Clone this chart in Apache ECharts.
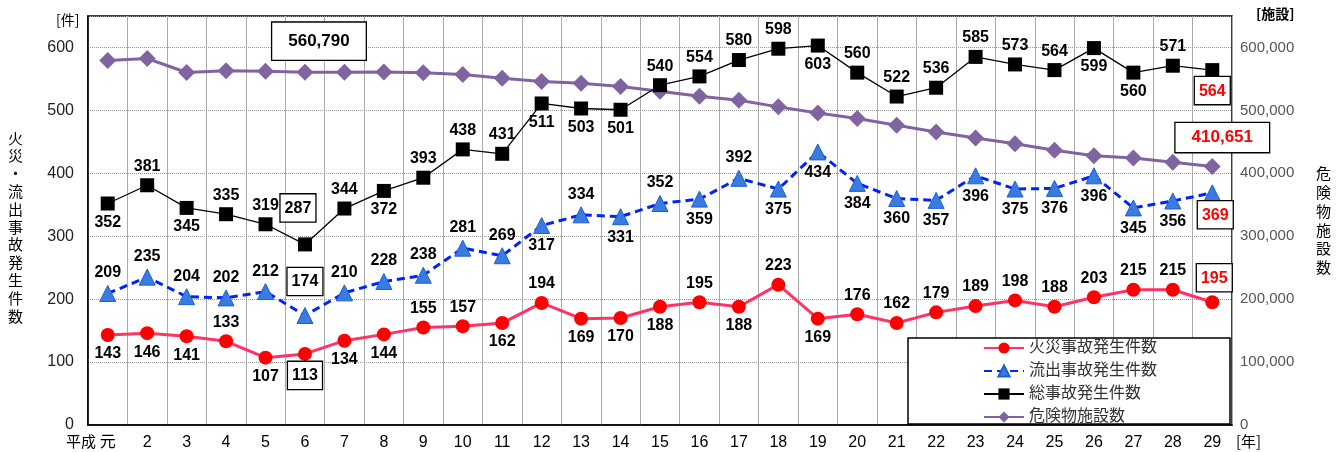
<!DOCTYPE html>
<html><head><meta charset="utf-8">
<script src="https://cdn.jsdelivr.net/npm/echarts@6/dist/echarts.min.js"></script>
<style>html,body{margin:0;padding:0;background:#fff}#c{width:1336px;height:452px}</style>
</head><body><div id="c"></div>
<script>
const categories = ['元','2','3','4','5','6','7','8','9','10','11','12','13','14','15','16','17','18','19','20','21','22','23','24','25','26','27','28','29'];
const fireCounts = [143,146,141,133,107,113,134,144,155,157,162,194,169,170,188,195,188,223,169,176,162,179,189,198,188,203,215,215,195];
const spillCounts = [209,235,204,202,212,174,210,228,238,281,269,317,334,331,352,359,392,375,434,384,360,357,396,375,376,396,345,356,369];
const totalCounts = [352,381,345,335,319,287,344,372,393,438,431,511,503,501,540,554,580,598,603,560,522,536,585,573,564,599,560,571,564];
const facilityCounts = [579300,582500,560200,563000,562000,560790,560500,561000,559700,557000,551000,546000,543000,538000,530500,522500,516000,505600,496000,487000,476400,465800,456000,447000,436500,428000,424500,417500,410651];
const yLeftTicks = [0,100,200,300,400,500,600];
// label placement: t = above, b = below
const fireSide  = ['b','b','b','t','b','b','b','b','t','t','b','t','b','b','b','t','b','t','b','t','t','t','t','t','t','t','t','t','t'];
const spillSide = ['t','t','t','t','t','t','t','t','t','t','t','b','t','b','t','b','t','b','b','b','b','b','b','b','b','b','b','b','b'];
const totalSide = ['b','t','b','t','t','t','t','b','t','t','t','b','b','b','t','t','t','t','b','t','t','t','t','t','t','b','b','t','b'];

const FONT = '"Liberation Sans", "Noto Sans CJK JP", sans-serif';
const baseLabel = {show:true, color:'#000', fontWeight:'bold', fontSize:16, fontFamily:FONT, distance:4};
const boxBlack = {borderColor:'#000', borderWidth:1.3, backgroundColor:'#fff', padding:[6,4,5,4]};
const boxRed = {borderColor:'#000', borderWidth:1.3, backgroundColor:'#fff', padding:[6,4,5,4], color:'#ff0000'};

function build(values, sides, special){
  return values.map((v,i)=>{
    const lab = Object.assign({}, baseLabel, {position: sides[i]==='t'?'top':'bottom'});
    if (special && special[i]) Object.assign(lab, special[i]);
    return {value:v, label:lab};
  });
}
const last = categories.length-1;
const fireData = build(fireCounts, fireSide, {5: Object.assign({}, boxBlack, {distance:1}), [last]: Object.assign({}, boxRed, {distance:4, offset:[2,0]})});
const spillData = build(spillCounts, spillSide, {5: Object.assign({}, boxBlack, {distance:12, offset:[0,0]}), [last]: Object.assign({}, boxRed, {distance:0, offset:[3,0]})});
const totalData = build(totalCounts, totalSide, {5: Object.assign({}, boxBlack, {distance:16, offset:[-7,0]}), [last]: Object.assign({}, boxRed, {distance:0, offset:[0,0]})});
const facilityData = facilityCounts.map((v,i)=>{
  if (i===5) return {value:v, label:{show:true, position:'top', formatter:(p)=>p.value.toLocaleString('en-US'), color:'#000', fontWeight:'bold', fontSize:17, fontFamily:FONT, borderColor:'#000', borderWidth:1.3, backgroundColor:'#fff', padding:[10,16,10,16], distance:5, offset:[14,1]}};
  if (i===last) return {value:v, label:{show:true, position:'top', formatter:(p)=>p.value.toLocaleString('en-US'), color:'#ff0000', fontWeight:'bold', fontSize:17, fontFamily:FONT, borderColor:'#000', borderWidth:1.3, backgroundColor:'#fff', padding:[6,16,6,16], distance:5, offset:[10,-1]}};
  return v;
});

const chart = echarts.init(document.getElementById('c'));
chart.setOption({
  animation:false,
  backgroundColor:'#fff',
  textStyle:{fontFamily:FONT},
  grid:{left:88, right:104, top:16, bottom:27, show:true, borderColor:'#000', borderWidth:1.5, backgroundColor:'transparent'},
  legend:{
    orient:'vertical', left:983, top:340, padding:0, itemGap:7, itemWidth:40, itemHeight:14,
    textStyle:{fontSize:16, color:'#333', fontFamily:FONT},
    data:['火災事故発生件数','流出事故発生件数','総事故発生件数','危険物施設数']
  },
  graphic:[
    {type:'rect', z:3, shape:{x:908, y:338, width:322, height:86}, style:{fill:'#fff', stroke:'#000', lineWidth:1.5}},
    {type:'text', left:8, top:129, style:{text:'火\n災\n・\n流\n出\n事\n故\n発\n生\n件\n数', font:'15px "Noto Sans CJK JP"', fill:'#000', lineHeight:17.8, align:'center'}},
    {type:'text', left:1316, top:164, style:{text:'危\n険\n物\n施\n設\n数', font:'15px "Noto Sans CJK JP"', fill:'#000', lineHeight:18.8, align:'center'}},
    {type:'text', left:56, top:13, style:{text:'[件]', font:'14px "Noto Sans CJK JP"', fill:'#000'}},
    {type:'text', left:1256, top:7, style:{text:'[施設]', font:'bold 14px "Noto Sans CJK JP"', fill:'#000'}},
    {type:'text', left:66, top:434, style:{text:'平成', font:'15px "Noto Sans CJK JP"', fill:'#000'}},
    {type:'text', left:1236, top:434, style:{text:'[年]', font:'15px "Noto Sans CJK JP"', fill:'#000'}}
  ],
  xAxis:{
    type:'category', data:categories, boundaryGap:true,
    axisLine:{lineStyle:{color:'#000', width:1.5}}, axisTick:{show:false},
    axisLabel:{fontSize:16, color:'#000', margin:10, fontFamily:FONT},
    splitLine:{show:true, lineStyle:{color:'#aaa', width:1}}
  },
  yAxis:[
    {type:'value', min:0, max:650, interval:100,
     axisLine:{show:true, lineStyle:{color:'#000', width:1.5}}, axisTick:{show:false},
     axisLabel:{fontSize:16, color:'#222', margin:14, fontFamily:FONT, formatter:(v)=> yLeftTicks.includes(v)? String(v):''},
     splitLine:{show:true, lineStyle:{color:'#999', type:'dotted', width:1}}},
    {type:'value', min:0, max:650000, interval:100000,
     axisLine:{show:false}, axisTick:{show:false},
     axisLabel:{fontSize:15, color:'#555', margin:8, fontFamily:FONT, formatter:(v)=> v%100000===0 && v<=600000 ? v.toLocaleString('en-US') : ''},
     splitLine:{show:false}}
  ],
  series:[
    {name:'危険物施設数', type:'line', yAxisIndex:1, data:facilityData, symbol:'diamond', symbolSize:17,
     itemStyle:{color:'#8064A2'}, lineStyle:{color:'#8064A2', width:3}, z:2},
    {name:'総事故発生件数', type:'line', data:totalData, symbol:'rect', symbolSize:14,
     itemStyle:{color:'#000'}, lineStyle:{color:'#000', width:1.3}, z:3},
    {name:'流出事故発生件数', type:'line', data:spillData, symbol:'triangle', symbolSize:16,
     itemStyle:{color:'#3A7BE0', borderColor:'#1e5fd0', borderWidth:1}, lineStyle:{color:'#0022ff', width:3, type:[8,5]}, z:4},
    {name:'火災事故発生件数', type:'line', data:fireData, symbol:'circle', symbolSize:14,
     itemStyle:{color:'#ff0000'}, lineStyle:{color:'#ff3366', width:3}, z:5}
  ]
});
</script></body></html>
